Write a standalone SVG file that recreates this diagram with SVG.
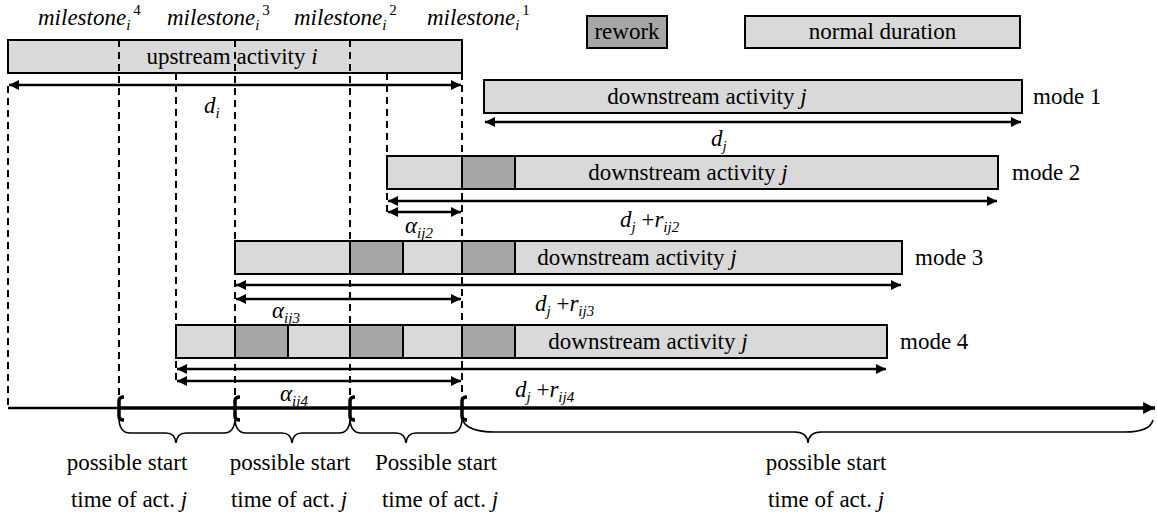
<svg xmlns="http://www.w3.org/2000/svg" width="1157" height="516" viewBox="0 0 1157 516" font-family="'Liberation Serif', Tinos, 'Times New Roman', Times, serif">
  <style>
    svg, text, tspan { font-family: "Liberation Serif", Tinos, "Times New Roman", Times, serif; }
    text { font-size: 23px; fill: #000; }
    .it { font-style: italic; }
    .ms { font-size: 23px; font-style: italic; }
    .sub { font-size: 15px; font-style: italic; }
    .sup { font-size: 15px; font-style: normal; }
    .bar { fill: #d9d9d9; stroke: #000; stroke-width: 2; }
    .rw { fill: #a6a6a6; stroke: #000; stroke-width: 2; }
    .dash { stroke: #000; stroke-width: 2; stroke-dasharray: 7 5; fill: none; }
    .dim { stroke: #000; stroke-width: 2.5; fill: none; marker-start: url(#ah-s); marker-end: url(#ah-e); }
    .brk { stroke: #000; stroke-width: 3.5; fill: none; }
    .brace { stroke: #000; stroke-width: 1.6; fill: none; }
  </style>
  <defs>
    <marker id="ah-e" viewBox="0 0 10 10" refX="10" refY="5" markerWidth="5" markerHeight="4" markerUnits="strokeWidth" orient="auto">
      <path d="M0,0 L10,5 L0,10 z" fill="#000"/>
    </marker>
    <marker id="ah-s" viewBox="0 0 10 10" refX="0" refY="5" markerWidth="5" markerHeight="4" markerUnits="strokeWidth" orient="auto">
      <path d="M10,0 L0,5 L10,10 z" fill="#000"/>
    </marker>
    <marker id="axis-end" viewBox="0 0 10 10" refX="10" refY="5" markerWidth="4" markerHeight="3.4" markerUnits="strokeWidth" orient="auto">
      <path d="M0,0 L10,5 L0,10 z" fill="#000"/>
    </marker>
  </defs>

  <!-- milestone labels -->
  <g id="milestones">
    <text x="38" y="25" class="ms">milestone<tspan class="sub" dy="5">i</tspan><tspan class="sup" dx="3" dy="-15">4</tspan></text>
    <text x="167" y="25" class="ms">milestone<tspan class="sub" dy="5">i</tspan><tspan class="sup" dx="3" dy="-15">3</tspan></text>
    <text x="294" y="25" class="ms">milestone<tspan class="sub" dy="5">i</tspan><tspan class="sup" dx="3" dy="-15">2</tspan></text>
    <text x="427" y="25" class="ms">milestone<tspan class="sub" dy="5">i</tspan><tspan class="sup" dx="3" dy="-15">1</tspan></text>
  </g>

  <!-- legend -->
  <g id="legend">
    <rect x="587" y="16" width="80" height="32" class="rw"/>
    <text x="627" y="39" text-anchor="middle">rework</text>
    <rect x="745" y="16" width="275" height="32" class="bar"/>
    <text x="882.5" y="39" text-anchor="middle">normal duration</text>
  </g>

  <!-- upstream activity -->
  <g id="upstream">
    <rect x="8" y="40" width="454" height="33" class="bar"/>
    <text x="232" y="64" text-anchor="middle">upstream activity <tspan class="it">i</tspan></text>
  </g>

  <!-- downstream activity, mode 1 -->
  <g id="mode1">
    <rect x="484" y="80" width="538" height="33" class="bar"/>
    <text x="707" y="104" text-anchor="middle">downstream activity <tspan class="it">j</tspan></text>
    <text x="1033" y="104">mode 1</text>
  </g>

  <!-- downstream activity, mode 2 -->
  <g id="mode2">
    <rect x="387" y="156" width="611" height="33" class="bar"/>
    <rect x="462" y="156" width="53" height="33" class="rw"/>
    <text x="688" y="180" text-anchor="middle">downstream activity <tspan class="it">j</tspan></text>
    <text x="1012" y="180">mode 2</text>
  </g>

  <!-- downstream activity, mode 3 -->
  <g id="mode3">
    <rect x="235" y="241" width="667" height="33" class="bar"/>
    <rect x="350" y="241" width="53" height="33" class="rw"/>
    <rect x="462" y="241" width="53" height="33" class="rw"/>
    <text x="637" y="265" text-anchor="middle">downstream activity <tspan class="it">j</tspan></text>
    <text x="915" y="265">mode 3</text>
  </g>

  <!-- downstream activity, mode 4 -->
  <g id="mode4">
    <rect x="176" y="325" width="711" height="33" class="bar"/>
    <rect x="235" y="325" width="53" height="33" class="rw"/>
    <rect x="350" y="325" width="53" height="33" class="rw"/>
    <rect x="462" y="325" width="53" height="33" class="rw"/>
    <text x="648" y="349" text-anchor="middle">downstream activity <tspan class="it">j</tspan></text>
    <text x="900" y="349">mode 4</text>
  </g>

  <!-- milestone guide lines -->
  <g id="guides">
    <line x1="8" y1="86" x2="8" y2="408" class="dash"/>
    <line x1="119" y1="40" x2="119" y2="398" class="dash"/>
    <line x1="176" y1="73" x2="176" y2="384" class="dash"/>
    <line x1="235" y1="40" x2="235" y2="398" class="dash"/>
    <line x1="350" y1="40" x2="350" y2="398" class="dash"/>
    <line x1="387" y1="73" x2="387" y2="214" class="dash"/>
    <line x1="462" y1="73" x2="462" y2="398" class="dash"/>
  </g>

  <!-- dimension arrows -->
  <g id="connectors">
    <line x1="9" y1="85" x2="461" y2="85" class="dim"/>
    <line x1="485" y1="122" x2="1021" y2="122" class="dim"/>
    <line x1="388" y1="201" x2="997" y2="201" class="dim"/>
    <line x1="388" y1="212" x2="461" y2="212" class="dim"/>
    <line x1="236" y1="285" x2="901" y2="285" class="dim"/>
    <line x1="236" y1="299" x2="461" y2="299" class="dim"/>
    <line x1="177" y1="369" x2="886" y2="369" class="dim"/>
    <line x1="177" y1="381" x2="461" y2="381" class="dim"/>

    <!-- time axis -->
    <line x1="8" y1="408" x2="119" y2="408" stroke="#000" stroke-width="2.5"/>
    <line x1="119" y1="408" x2="1155" y2="408" stroke="#000" stroke-width="3.5" marker-end="url(#axis-end)"/>

    <!-- start-window brackets on the axis -->
    <path d="M124,397 Q119,397 119,401 L119,416 Q119,420 124,420" class="brk"/>
    <path d="M240,397 Q235,397 235,401 L235,416 Q235,420 240,420" class="brk"/>
    <path d="M355,397 Q350,397 350,401 L350,416 Q350,420 355,420" class="brk"/>
    <path d="M467,397 Q462,397 462,401 L462,416 Q462,420 467,420" class="brk"/>

    <!-- underbraces -->
    <path d="M119,420 Q120,433 130,433 L166,433 Q175,433 176,443 Q177,433 186,433 L224,433 Q234,433 235,420" class="brace"/>
    <path d="M235,420 Q236,433 246,433 L282,433 Q291,433 292,443 Q293,433 302,433 L339,433 Q349,433 350,420" class="brace"/>
    <path d="M350,420 Q351,433 361,433 L396,433 Q405,433 406,443 Q407,433 416,433 L451,433 Q461,433 462,420" class="brace"/>
    <path d="M462,418 Q465,432 495,432 L795,432 Q807,432 808,443 Q809,432 821,432 L1125,432 Q1150,432 1153,420" class="brace"/>
  </g>

  <!-- dimension labels -->
  <g id="labels">
    <text x="204" y="113" class="it">d<tspan class="sub" dy="5">i</tspan></text>
    <text x="711" y="146" class="it">d<tspan class="sub" dy="5">j</tspan></text>
    <text x="620" y="227"><tspan class="it">d</tspan><tspan class="sub" dy="5">j</tspan><tspan dy="-5"> +</tspan><tspan class="it">r</tspan><tspan class="sub" dy="5">ij2</tspan></text>
    <text x="405" y="233" class="it">α<tspan class="sub" dy="5">ij2</tspan></text>
    <text x="535" y="311"><tspan class="it">d</tspan><tspan class="sub" dy="5">j</tspan><tspan dy="-5"> +</tspan><tspan class="it">r</tspan><tspan class="sub" dy="5">ij3</tspan></text>
    <text x="272" y="318" class="it">α<tspan class="sub" dy="5">ij3</tspan></text>
    <text x="515" y="397"><tspan class="it">d</tspan><tspan class="sub" dy="5">j</tspan><tspan dy="-5"> +</tspan><tspan class="it">r</tspan><tspan class="sub" dy="5">ij4</tspan></text>
    <text x="280" y="401" class="it">α<tspan class="sub" dy="5">ij4</tspan></text>
  </g>

  <!-- start-window captions -->
  <g id="captions">
    <text x="127" y="470" text-anchor="middle">possible start</text>
    <text x="129" y="507" text-anchor="middle">time of act. <tspan class="it">j</tspan></text>
    <text x="290" y="470" text-anchor="middle">possible start</text>
    <text x="289" y="507" text-anchor="middle">time of act. <tspan class="it">j</tspan></text>
    <text x="436" y="470" text-anchor="middle">Possible start</text>
    <text x="440" y="507" text-anchor="middle">time of act. <tspan class="it">j</tspan></text>
    <text x="826" y="470" text-anchor="middle">possible start</text>
    <text x="826" y="507" text-anchor="middle">time of act. <tspan class="it">j</tspan></text>
  </g>
</svg>
